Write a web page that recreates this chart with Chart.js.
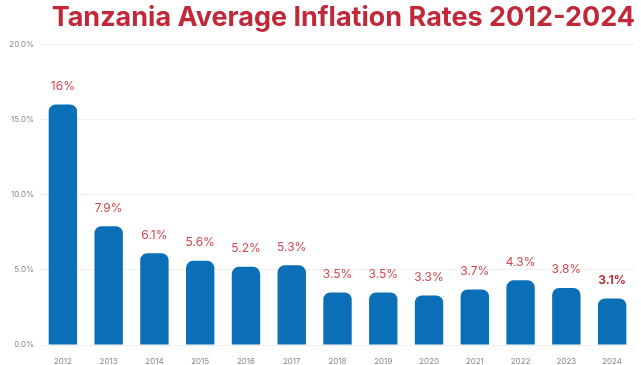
<!DOCTYPE html>
<html><head><meta charset="utf-8">
<script src="https://cdn.jsdelivr.net/npm/chart.js@4/dist/chart.umd.min.js"></script>
<style>html,body{margin:0;padding:0;background:#fff}#wrap{width:641px;height:365px}</style>
</head><body><div id="wrap"><canvas id="c" width="641" height="365"></canvas></div>
<script>
const categories = ["2012","2013","2014","2015","2016","2017","2018","2019","2020","2021","2022","2023","2024"];
const inflation = [16, 7.9, 6.1, 5.6, 5.2, 5.3, 3.5, 3.5, 3.3, 3.7, 4.3, 3.8, 3.1];
const valueLabels = ["16%","7.9%","6.1%","5.6%","5.2%","5.3%","3.5%","3.5%","3.3%","3.7%","4.3%","3.8%","3.1%"];

const labelPlugin = {
  id: 'valueLabels',
  afterDatasetsDraw(chart) {
    const ctx = chart.ctx;
    const meta = chart.getDatasetMeta(0);
    ctx.save();
    ctx.textAlign = 'center';
    ctx.textBaseline = 'bottom';
    meta.data.forEach((bar, i) => {
      const last = i === meta.data.length - 1;
      ctx.font = (last ? 'bold ' : '') + '12px Inter, sans-serif';
      ctx.fillStyle = last ? '#c0303c' : '#d6454f';
      ctx.fillText(valueLabels[i], bar.x, bar.y - 12);
    });
    ctx.restore();
  }
};

new Chart(document.getElementById('c'), {
  type: 'bar',
  data: {
    labels: categories,
    datasets: [{
      data: inflation,
      backgroundColor: '#0b6fb8',
      borderRadius: {topLeft: 7, topRight: 7, bottomLeft: 0, bottomRight: 0},
      borderSkipped: false,
      categoryPercentage: 0.62,
      barPercentage: 1.0
    }]
  },
  options: {
    responsive: false,
    animation: false,
    devicePixelRatio: 1,
    layout: {padding: {left: 0, right: 6, top: 0, bottom: 0}},
    plugins: {
      legend: {display: false},
      tooltip: {enabled: false},
      title: {
        display: true,
        align: 'end',
        text: 'Tanzania Average Inflation Rates 2012-2024',
        color: '#c0293a',
        font: {family: 'Inter, sans-serif', size: 27, weight: 'bold'},
        padding: {top: 2, bottom: 10}
      }
    },
    scales: {
      x: {
        grid: {display: false},
        border: {display: false},
        ticks: {color: '#8a8a8a', font: {family: 'Inter, sans-serif', size: 8}, padding: 4},
        afterFit(s) { s.height = 20; }
      },
      y: {
        min: 0, max: 20,
        ticks: {stepSize: 5, color: '#8a8a8a', font: {family: 'Inter, sans-serif', size: 8},
          callback: v => v.toFixed(1) + '%', padding: 6},
        grid: {color: '#f0f0f0', drawTicks: false},
        border: {display: false},
        afterFit(s) { s.width = 40; }
      }
    }
  },
  plugins: [labelPlugin]
});
</script></body></html>
